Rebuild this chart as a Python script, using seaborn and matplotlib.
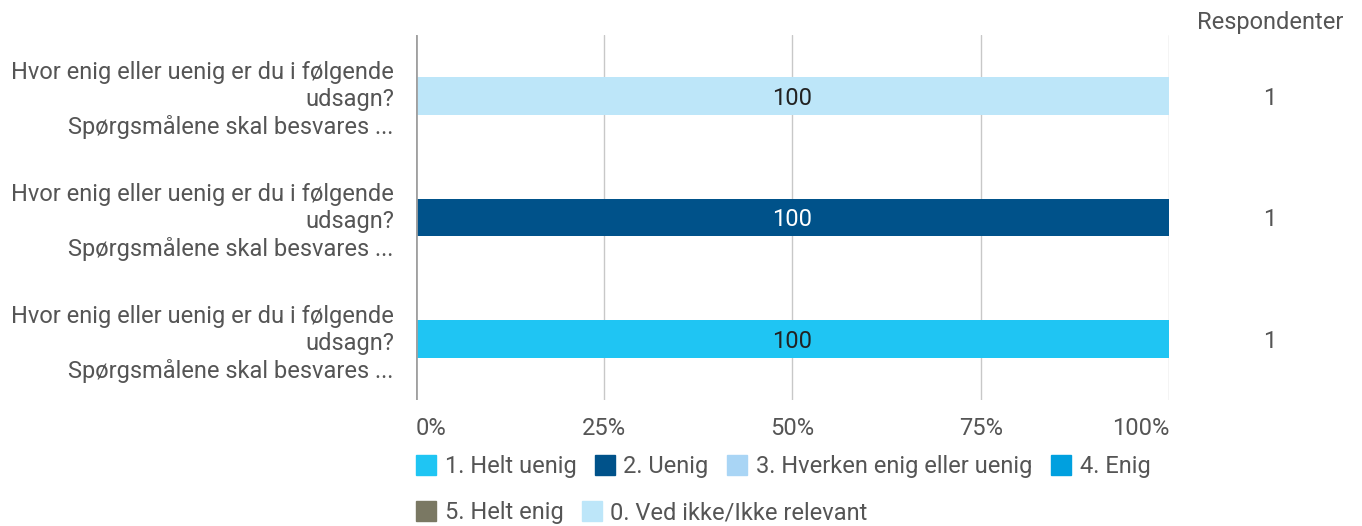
import numpy as np
import pandas as pd
import matplotlib.pyplot as plt
import seaborn as sns
from matplotlib.lines import Line2D
from matplotlib.transforms import blended_transform_factory

# data
questions = ["Hvor enig eller uenig er du i følgende\nudsagn?\nSpørgsmålene skal besvares ..."] * 3
question_ids = ["q1", "q2", "q3"]
categories = ["1. Helt uenig", "2. Uenig", "3. Hverken enig eller uenig",
              "4. Enig", "5. Helt enig", "0. Ved ikke/Ikke relevant"]
colors = ["#1fc5f3", "#00528a", "#a9d5f5", "#00a0df", "#7a7863", "#bde6f9"]
text_colors = ["#222222", "white", "#222222", "white", "white", "#222222"]
helt_uenig = [0, 0, 100]
uenig = [0, 100, 0]
hverken = [0, 0, 0]
enig = [0, 0, 0]
helt_enig = [0, 0, 0]
ved_ikke = [100, 0, 0]
respondents = [1, 1, 1]
xticks = [0, 25, 50, 75, 100]

values = np.array([helt_uenig, uenig, hverken, enig, helt_enig, ved_ikke], dtype=float)
cum = values.cumsum(axis=0)

sns.set_theme(style="white")
plt.rcParams['font.family'] = ['Roboto', 'DejaVu Sans']
grey = "#555555"
fs = 17

fig = plt.figure(figsize=(13.62, 5.26), dpi=100)
ax = fig.add_axes([416 / 1362, 1 - 400 / 526, (1169 - 416) / 1362, 365 / 526])

# stacked bars: draw cumulative totals from the last category backwards
for i in reversed(range(len(categories))):
    sns.barplot(x=cum[i], y=question_ids, order=question_ids, orient="h",
                color=colors[i], saturation=1, width=0.31, errorbar=None,
                linewidth=0, ax=ax, zorder=3)

# segment labels
for i in range(len(categories)):
    for j in range(len(question_ids)):
        if values[i, j] > 0:
            ax.text(cum[i, j] - values[i, j] / 2, j, f"{values[i, j]:.0f}",
                    ha="center", va="center_baseline", fontsize=fs,
                    color=text_colors[i], zorder=4)

ax.set_xlim(0, 100)
ax.set_ylim(2.5, -0.5)
ax.set_xticks(xticks)
ax.set_xticklabels([f"{t}%" for t in xticks])
ax.set_yticks(range(len(questions)))
ax.set_yticklabels(questions)
ax.set_xlabel("")
ax.set_ylabel("")
for s in ax.spines.values():
    s.set_visible(False)
ax.grid(False)
for t in xticks[1:]:
    ax.axvline(t, color="#c8c8c8", lw=1, zorder=1)
ax.axvline(0, color="#a0a0a0", lw=2, zorder=5)

ax.tick_params(axis="x", length=0, pad=12, labelsize=fs, labelcolor=grey)
ax.tick_params(axis="y", length=0, pad=16, labelsize=fs, labelcolor=grey)
for lab in ax.get_yticklabels():
    lab.set_linespacing(1.22)
xl = ax.get_xticklabels()
xl[0].set_ha("left")
xl[-1].set_ha("right")

# respondents column
tr = blended_transform_factory(fig.transFigure, ax.transData)
for j, n in enumerate(respondents):
    ax.text(1270 / 1362, j, str(n), transform=tr, ha="center", va="center_baseline",
            fontsize=fs, color=grey)
fig.text(1270 / 1362, 1 - 22 / 526, "Respondenter", ha="center", va="center",
         fontsize=fs, color=grey)

# legend in two rows
handles = [Line2D([], [], marker="s", ls="", markersize=15, color=c) for c in colors]
kw = dict(frameon=False, loc="center left", borderpad=0, borderaxespad=0,
          handlelength=0.9, handletextpad=0.35, columnspacing=0.75,
          fontsize=fs, labelcolor=grey)
leg1 = fig.legend(handles[:4], categories[:4], ncol=4,
                  bbox_to_anchor=(415 / 1362, 1 - 467 / 526), **kw)
leg2 = fig.legend(handles[4:], categories[4:], ncol=2,
                  bbox_to_anchor=(415 / 1362, 1 - 513 / 526), **kw)

fig.savefig("out.png", dpi=100)
